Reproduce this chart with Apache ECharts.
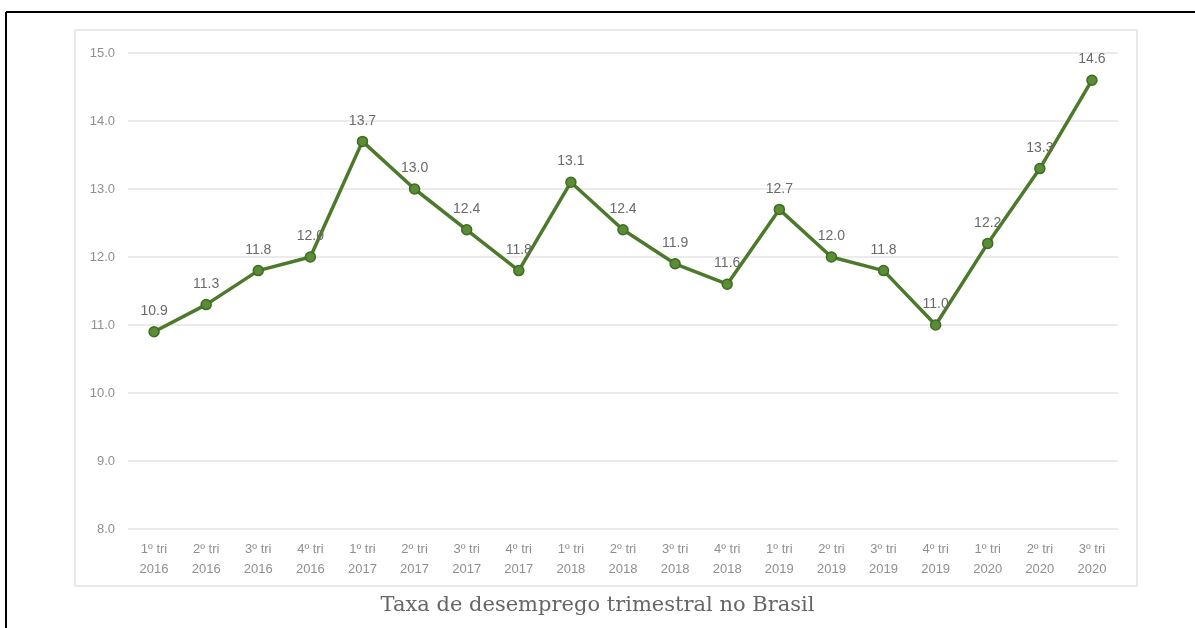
<!DOCTYPE html>
<html>
<head>
<meta charset="utf-8">
<script src="https://cdn.jsdelivr.net/npm/echarts@6/dist/echarts.min.js"></script>
<style>
html,body{margin:0;padding:0;background:#fff;}
#chart{width:1195px;height:628px;}
</style>
</head>
<body>
<div id="chart"></div>
<script>
const categories = ['1º tri\n2016','2º tri\n2016','3º tri\n2016','4º tri\n2016',
  '1º tri\n2017','2º tri\n2017','3º tri\n2017','4º tri\n2017',
  '1º tri\n2018','2º tri\n2018','3º tri\n2018','4º tri\n2018',
  '1º tri\n2019','2º tri\n2019','3º tri\n2019','4º tri\n2019',
  '1º tri\n2020','2º tri\n2020','3º tri\n2020'];
const values = [10.9, 11.3, 11.8, 12.0, 13.7, 13.0, 12.4, 11.8, 13.1, 12.4, 11.9, 11.6, 12.7, 12.0, 11.8, 11.0, 12.2, 13.3, 14.6];
const titleText = 'Taxa de desemprego trimestral no Brasil';

const chart = echarts.init(document.getElementById('chart'));
chart.setOption({
  animation: false,
  backgroundColor: '#fff',
  title: {
    text: titleText,
    left: 'center',
    top: 590,
    textStyle: {fontFamily: 'DejaVu Serif', fontSize: 21, fontWeight: 'normal', color: '#666'}
  },
  graphic: [
    {type: 'rect', shape: {x: 75, y: 30, width: 1062, height: 556}, style: {fill: 'none', stroke: '#e2e2e2', lineWidth: 1.5}, z: -1},
    {type: 'line', shape: {x1: 6, y1: 12, x2: 1195, y2: 12}, style: {stroke: '#000', lineWidth: 2}},
    {type: 'line', shape: {x1: 6, y1: 12, x2: 6, y2: 628}, style: {stroke: '#000', lineWidth: 2}}
  ],
  grid: {left: 128, right: 77, top: 53, bottom: 99},
  xAxis: {
    type: 'category',
    data: categories,
    boundaryGap: true,
    axisLine: {show: false},
    axisTick: {show: false},
    axisLabel: {interval: 0, margin: 10, fontFamily: 'Liberation Sans', fontSize: 13, color: '#8f8f8f', lineHeight: 20}
  },
  yAxis: {
    type: 'value',
    min: 8,
    max: 15,
    interval: 1,
    axisLine: {show: false},
    axisTick: {show: false},
    splitLine: {lineStyle: {color: '#e4e4e4', width: 1.5}},
    axisLabel: {margin: 13, fontFamily: 'Liberation Sans', fontSize: 13, color: '#8f8f8f', formatter: v => v.toFixed(1)}
  },
  series: [{
    type: 'line',
    data: values,
    symbol: 'circle',
    symbolSize: 10,
    lineStyle: {color: '#4b7a2a', width: 3.5},
    itemStyle: {color: '#5b8c36', borderColor: '#3f6b22', borderWidth: 1.5},
    label: {show: true, position: 'top', distance: 8, fontFamily: 'Liberation Sans', fontSize: 14, color: '#6a6a6a', formatter: p => p.value.toFixed(1)}
  }]
});
</script>
</body>
</html>
